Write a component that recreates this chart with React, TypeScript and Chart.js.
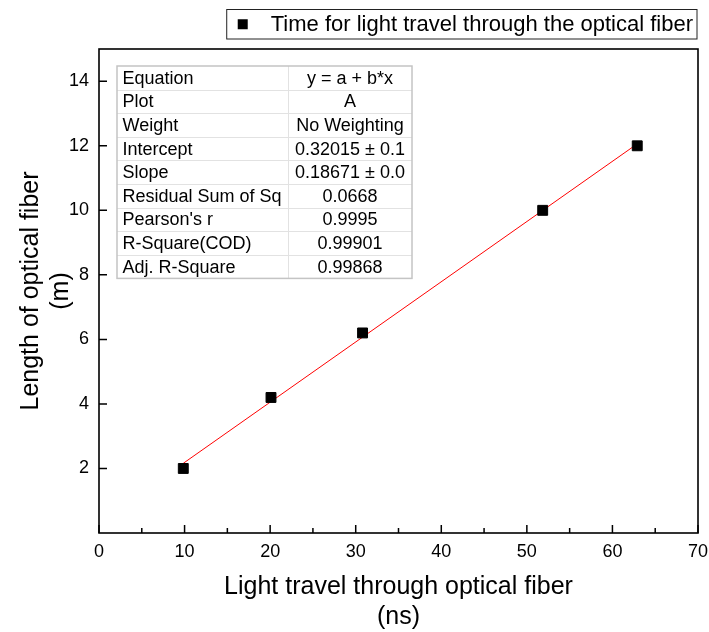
import React, { useEffect, useRef } from "react";
import { Chart, registerables } from "chart.js";

Chart.register(...registerables);

const seriesLabel = "Time for light travel through the optical fiber";
const travelTimeNs = [9.85, 20.1, 30.8, 51.85, 62.9];
const fiberLengthM = [2.0, 4.2, 6.2, 10.0, 12.0];
const fitTimeNs = [9.85, 62.9];
const fitLengthM = [2.16, 12.06];
const xTicks = [0, 10, 20, 30, 40, 50, 60, 70];
const xMinorTicks = [5, 15, 25, 35, 45, 55, 65];
const yTicks = [2, 4, 6, 8, 10, 12, 14];
const tableLabels = [
  "Equation",
  "Plot",
  "Weight",
  "Intercept",
  "Slope",
  "Residual Sum of Sq",
  "Pearson's r",
  "R-Square(COD)",
  "Adj. R-Square",
];
const tableValues = [
  "y = a + b*x",
  "A",
  "No Weighting",
  "0.32015 ± 0.1",
  "0.18671 ± 0.0",
  "0.0668",
  "0.9995",
  "0.99901",
  "0.99868",
];
const xTitle = ["Light travel through optical fiber", "(ns)"];
const yTitle = ["Length of optical fiber", "(m)"];

const FONT = "'Liberation Sans', Arial, sans-serif";

const originPlugin = {
  id: "originDecor",
  afterDraw(chart: any) {
    const { ctx, chartArea: ca, scales } = chart;
    const xs = scales.x;
    const ys = scales.y;
    ctx.save();
    // ticks (inward)
    ctx.strokeStyle = "#000";
    ctx.lineWidth = 1.5;
    ctx.beginPath();
    xTicks.forEach((v) => {
      const px = xs.getPixelForValue(v);
      ctx.moveTo(px, ca.bottom);
      ctx.lineTo(px, ca.bottom - 8);
    });
    xMinorTicks.forEach((v) => {
      const px = xs.getPixelForValue(v);
      ctx.moveTo(px, ca.bottom);
      ctx.lineTo(px, ca.bottom - 5);
    });
    yTicks.forEach((v) => {
      const py = ys.getPixelForValue(v);
      ctx.moveTo(ca.left, py);
      ctx.lineTo(ca.left + 8, py);
    });
    ctx.stroke();
    // frame
    ctx.lineWidth = 1.6;
    ctx.strokeRect(ca.left, ca.top, ca.right - ca.left, ca.bottom - ca.top);

    // stats table
    const tx = ca.left + 18;
    const ty = ca.top + 17;
    const c1 = 171;
    const c2 = 124;
    const rh = 23.6;
    const th = rh * tableLabels.length;
    ctx.fillStyle = "#fff";
    ctx.fillRect(tx, ty, c1 + c2, th);
    ctx.strokeStyle = "#e2e2e2";
    ctx.lineWidth = 1;
    ctx.beginPath();
    for (let i = 1; i < tableLabels.length; i++) {
      const yy = Math.round(ty + i * rh) + 0.5;
      ctx.moveTo(tx, yy);
      ctx.lineTo(tx + c1 + c2, yy);
    }
    ctx.moveTo(tx + c1 + 0.5, ty);
    ctx.lineTo(tx + c1 + 0.5, ty + th);
    ctx.stroke();
    ctx.strokeStyle = "#c4c4c4";
    ctx.lineWidth = 1.5;
    ctx.strokeRect(tx, ty, c1 + c2, th);
    ctx.fillStyle = "#000";
    ctx.font = `18px ${FONT}`;
    ctx.textBaseline = "middle";
    tableLabels.forEach((t, i) => {
      ctx.textAlign = "left";
      ctx.fillText(t, tx + 5.5, ty + i * rh + rh / 2 + 1);
      ctx.textAlign = "center";
      ctx.fillText(tableValues[i], tx + c1 + c2 / 2, ty + i * rh + rh / 2 + 1);
    });

    // legend box
    const ds = chart.data.datasets[0];
    ctx.font = `22px ${FONT}`;
    const tw = ctx.measureText(ds.label).width;
    const boxRight = ca.right - 1;
    const textRight = boxRight - 4;
    const textLeft = textRight - tw;
    const markerX = textLeft - 28;
    const boxLeft = markerX - 16;
    const boxTop = 9.5;
    const boxH = 29.5;
    const cy = boxTop + boxH / 2;
    ctx.strokeStyle = "#222";
    ctx.lineWidth = 1;
    ctx.strokeRect(boxLeft, boxTop, boxRight - boxLeft, boxH);
    ctx.fillStyle = ds.backgroundColor;
    ctx.fillRect(markerX - 5, cy - 5, 10, 10);
    ctx.fillStyle = "#000";
    ctx.textAlign = "left";
    ctx.fillText(ds.label, textLeft, cy + 1);
    ctx.restore();
  },
};

export default function App() {
  const ref = useRef<HTMLCanvasElement | null>(null);
  useEffect(() => {
    document.body.style.margin = "0";
    const canvas = ref.current;
    if (!canvas) return;
    const chart = new Chart(canvas, {
      type: "scatter",
      data: {
        datasets: [
          {
            label: seriesLabel,
            data: travelTimeNs.map((x, i) => ({ x, y: fiberLengthM[i] })),
            backgroundColor: "#000",
            borderColor: "#000",
            pointStyle: "rect",
            pointRadius: 7,
            pointBorderWidth: 1,
            showLine: false,
          },
          {
            label: "Linear Fit",
            type: "line",
            data: fitTimeNs.map((x, i) => ({ x, y: fitLengthM[i] })),
            borderColor: "#ff0000",
            borderWidth: 1,
            pointRadius: 0,
            fill: false,
          } as any,
        ],
      },
      options: {
        responsive: false,
        animation: false,
        devicePixelRatio: 1,
        layout: { padding: { top: 49, right: 11, left: 0, bottom: 0 } },
        plugins: {
          legend: { display: false },
          tooltip: { enabled: false },
        },
        scales: {
          x: {
            type: "linear",
            min: 0,
            max: 70,
            afterBuildTicks: (s: any) => {
              s.ticks = xTicks.map((v) => ({ value: v }));
            },
            afterFit: (s: any) => {
              s.height = 99;
              s.paddingLeft = 0;
              s.paddingRight = 0;
            },
            grid: { display: false, drawTicks: false },
            border: { display: false },
            ticks: {
              color: "#000",
              font: { family: FONT, size: 18 },
              padding: 8,
              maxRotation: 0,
            },
            title: {
              display: true,
              text: xTitle,
              color: "#000",
              font: { family: FONT, size: 25, lineHeight: 1.2 },
              padding: { top: 0, bottom: 0 },
            },
          },
          y: {
            type: "linear",
            min: 0,
            max: 15,
            afterBuildTicks: (s: any) => {
              s.ticks = yTicks.map((v) => ({ value: v }));
            },
            afterFit: (s: any) => {
              s.width = 99;
              s.paddingTop = 0;
              s.paddingBottom = 0;
            },
            grid: { display: false, drawTicks: false },
            border: { display: false },
            ticks: {
              color: "#000",
              font: { family: FONT, size: 18 },
              padding: 10,
            },
            title: {
              display: true,
              text: yTitle,
              color: "#000",
              font: { family: FONT, size: 25, lineHeight: 1.2 },
              padding: { top: 16, bottom: 0 },
            },
          },
        },
      },
      plugins: [originPlugin],
    });
    return () => chart.destroy();
  }, []);
  return (
    <div style={{ width: 709, height: 632, background: "#fff" }}>
      <canvas ref={ref} width={709} height={632} style={{ display: "block" }} />
    </div>
  );
}
